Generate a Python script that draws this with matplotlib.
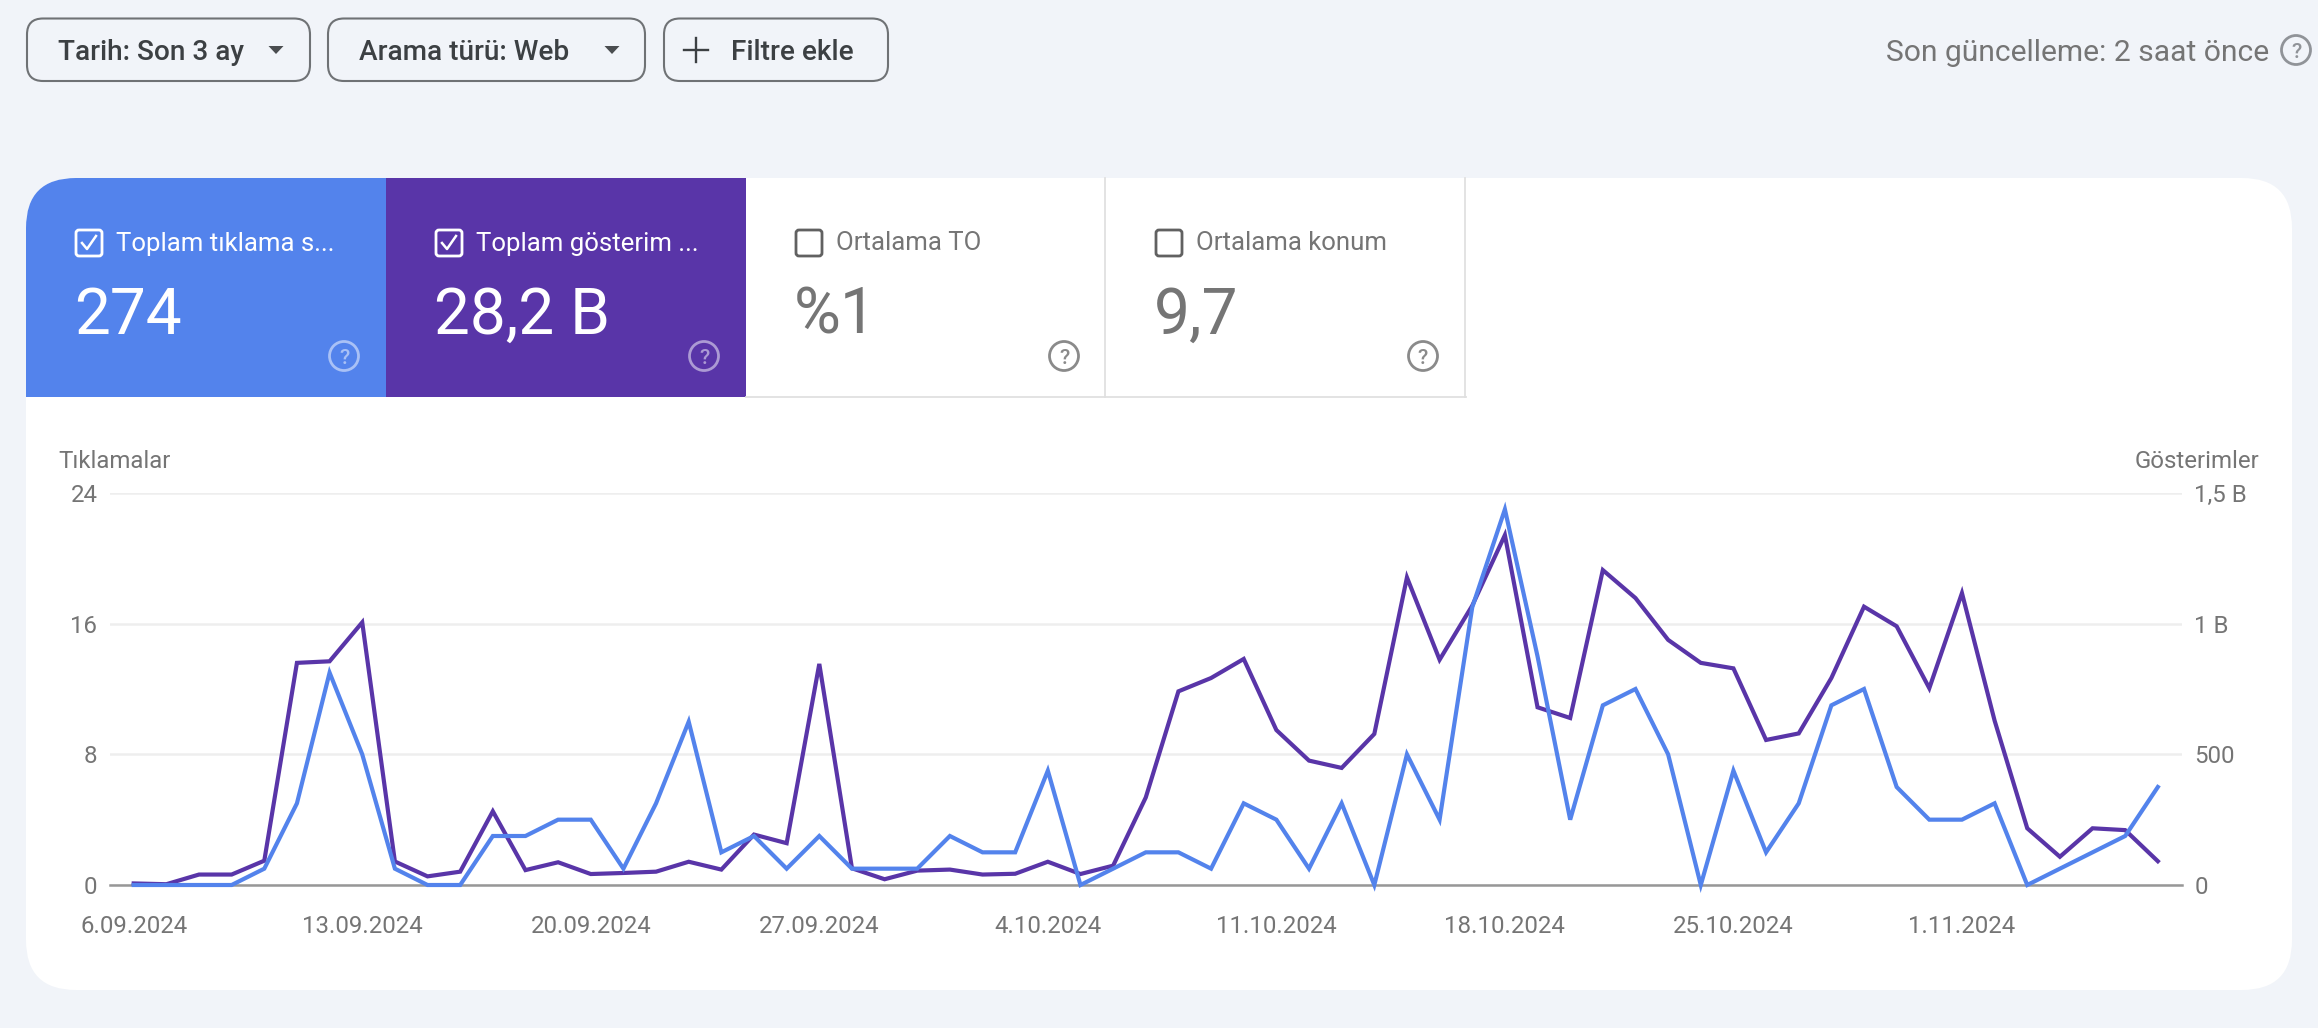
import matplotlib
matplotlib.use('Agg')

import matplotlib.pyplot as plt
import pandas as pd
from matplotlib.patches import Circle, FancyBboxPatch, Polygon, Rectangle

W, H = 2318, 1028

# Data
start_date = '2024-09-06'
clicks = [0, 0, 0, 0, 1, 5, 13, 8, 1, 0, 0, 3, 3, 4, 4, 1, 5, 10, 2, 3, 1,
          3, 1, 1, 1, 3, 2, 2, 7, 0, 1, 2, 2, 1, 5, 4, 1, 5, 0, 8, 4, 17,
          23, 14, 4, 11, 12, 8, 0, 7, 2, 5, 11, 12, 6, 4, 4, 5, 0, 1, 2, 3, 6]
impressions = [6, 3, 40, 40, 93, 850, 856, 1005, 90, 33, 51, 282, 57, 87, 42,
               46, 51, 89, 59, 193, 160, 846, 64, 22, 55, 59, 40, 43, 89, 42,
               74, 335, 741, 792, 865, 593, 476, 448, 578, 1177, 862, 1069,
               1339, 680, 639, 1205, 1098, 938, 850, 829, 555, 580, 792, 1065,
               990, 753, 1117, 629, 217, 108, 217, 210, 91]
click_ticks = [0, 8, 16, 24]
click_labels = ['0', '8', '16', '24']
imp_ticks = [0, 500, 1000, 1500]
imp_labels = ['0', '500', '1 B', '1,5 B']
date_labels = ['6.09.2024', '13.09.2024', '20.09.2024', '27.09.2024', '4.10.2024',
               '11.10.2024', '18.10.2024', '25.10.2024', '1.11.2024']
filter_labels = ['Tarih: Son 3 ay', 'Arama türü: Web', 'Filtre ekle']
tile_titles = ['Toplam tıklama s...', 'Toplam gösterim ...', 'Ortalama TO', 'Ortalama konum']
tile_values = ['274', '28,2 B', '%1', '9,7']

dates = pd.date_range(start_date, periods=len(clicks), freq='D')

BG = '#f1f4f9'
BLUE = '#5383ec'
PURPLE = '#5935a8'
GREY = '#757575'
DARK = '#3c4043'

plt.rcParams['font.family'] = ['Roboto', 'DejaVu Sans']


def fs(px):
    # font size from pixels at dpi 100
    return px * 0.72


fig = plt.figure(figsize=(W / 100, H / 100), dpi=100, facecolor=BG)

# Page furniture, in pixel coordinates
ui = fig.add_axes([0, 0, 1, 1])
ui.set_xlim(0, W)
ui.set_ylim(H, 0)
ui.axis('off')

card = FancyBboxPatch((26, 178), 2266, 812, boxstyle='round,pad=0,rounding_size=50',
                      fc='white', ec='none')
ui.add_patch(card)
for x0, col in [(26, BLUE), (386, PURPLE)]:
    r = Rectangle((x0, 178), 360, 219, fc=col, ec='none')
    ui.add_patch(r)
    r.set_clip_path(card)
ui.plot([746, 1466], [396.5, 396.5], color='#e0e0e0', lw=1.3)
for xb in [1105, 1465]:
    ui.plot([xb, xb], [178, 397], color='#e0e0e0', lw=1.3)


def button(x0, x1):
    ui.add_patch(FancyBboxPatch((x0, 18.5), x1 - x0, 62.5, boxstyle='round,pad=0,rounding_size=16',
                                fc=BG, ec='#6f7275', lw=1.5))


def arrow(xc):
    ui.add_patch(Polygon([(xc - 7.5, 46), (xc + 7.5, 46), (xc, 54)], fc='#4a4d50', ec='none'))


button(27, 310)
button(328, 645)
button(664, 888)
arrow(276)
arrow(612)
ui.plot([684, 708], [50, 50], color=DARK, lw=1.7)
ui.plot([696, 696], [38, 62], color=DARK, lw=1.7)
for x, s in zip([58, 359, 731], filter_labels):
    ui.text(x, 50, s, fontsize=fs(28), fontweight='medium', color=DARK, va='center_baseline')

ui.text(2269, 50, 'Son güncelleme: 2 saat önce', fontsize=fs(30), color=GREY, ha='right',
        va='center_baseline')


def help_icon(xc, yc, col):
    ui.add_patch(Circle((xc, yc), 14.5, fc='none', ec=col, lw=2))
    ui.text(xc, yc, '?', fontsize=fs(21), fontweight='medium', color=col, ha='center',
            va='center_baseline')


help_icon(2296, 50, '#909398')

tile_x = [75, 435, 795, 1155]
help_x = [344, 704, 1064, 1423]
title_col = ['white', 'white', GREY, GREY]
value_col = ['white', 'white', GREY, GREY]
check_col = ['white', 'white', '#616161', '#616161']
help_col = ['#a9c1f6', '#ac9ad4', '#8a8a8a', '#8a8a8a']
for i in range(4):
    x = tile_x[i]
    ui.add_patch(FancyBboxPatch((x + 1, 230), 26, 26, boxstyle='round,pad=0,rounding_size=3',
                                fc='none', ec=check_col[i], lw=2))
    if i < 2:
        ui.plot([x + 7, x + 12, x + 21], [243, 249, 236], color='white', lw=1.8)
    ui.text(x + 41, 241, tile_titles[i], fontsize=fs(25.7), color=title_col[i], va='center_baseline')
    ui.text(x - 1, 334, tile_values[i], fontsize=fs(64), color=value_col[i], va='baseline')
    help_icon(help_x[i], 356, help_col[i])

ui.text(58, 459, 'Tıklamalar', fontsize=fs(24), color=GREY, va='center_baseline')
ui.text(2259, 459, 'Gösterimler', fontsize=fs(24), color=GREY, ha='right', va='center_baseline')

# Chart: impressions underneath, clicks on top
ax_imp = fig.add_axes([110 / W, 1 - 885 / H, (2182 - 110) / W, (885 - 493) / H])
ax_imp.patch.set_alpha(0)
ax_clicks = ax_imp.twinx()

ax_imp.plot(dates, impressions, color=PURPLE, lw=3, clip_on=False, solid_joinstyle='miter', zorder=3)
ax_clicks.plot(dates, clicks, color=BLUE, lw=3, clip_on=False, solid_joinstyle='miter', zorder=3)

ax_imp.set_xlim(dates[0] - pd.Timedelta(days=0.726), dates[-1] + pd.Timedelta(days=0.74))
ax_imp.set_ylim(0, 1500)
ax_clicks.set_ylim(0, 24)

ax_imp.set_xticks(dates[::7][:len(date_labels)])
ax_imp.set_xticklabels(date_labels)
ax_imp.tick_params(axis='x', length=0, pad=21.5, labelsize=fs(24), labelcolor=GREY)

ax_imp.yaxis.tick_right()
ax_imp.set_yticks(imp_ticks)
ax_imp.set_yticklabels(imp_labels)
ax_imp.tick_params(axis='y', length=0, pad=9, labelsize=fs(24), labelcolor=GREY)

ax_clicks.yaxis.tick_left()
ax_clicks.set_yticks(click_ticks)
ax_clicks.set_yticklabels(click_labels)
ax_clicks.tick_params(axis='y', length=0, pad=9, labelsize=fs(24), labelcolor=GREY)

ax_imp.grid(True, axis='y', color='#eeeeee', lw=1.8, zorder=0)
ax_imp.set_axisbelow(True)
for ax in [ax_imp, ax_clicks]:
    for s in ax.spines.values():
        s.set_visible(False)
ax_imp.spines['bottom'].set_visible(True)
ax_imp.spines['bottom'].set_color('#979797')
ax_imp.spines['bottom'].set_linewidth(1.8)

fig.savefig('out.png', dpi=100, facecolor=BG)
